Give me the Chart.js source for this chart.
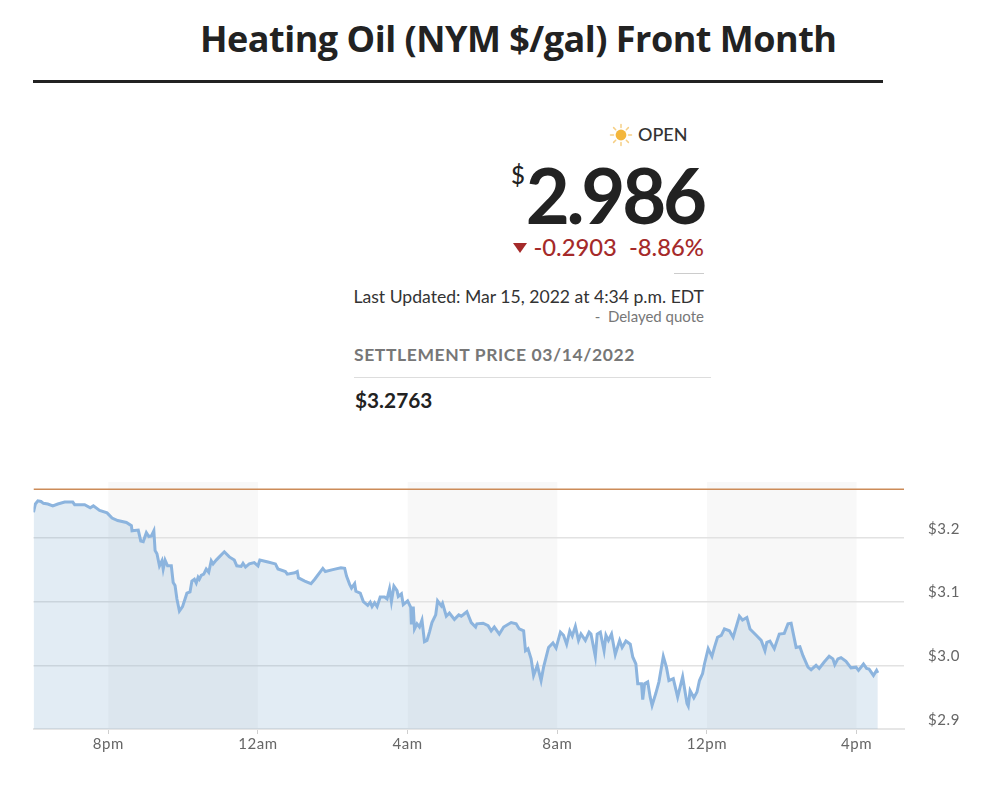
<!DOCTYPE html>
<html>
<head>
<meta charset="utf-8">
<title>Heating Oil</title>
<script src="https://cdn.jsdelivr.net/npm/chart.js@4"></script>
<style>
  html, body { margin: 0; padding: 0; background: #fff; }
  body { width: 1000px; height: 806px; position: relative; overflow: hidden; font-family: Lato, sans-serif; color: #222; }
  .t { position: absolute; white-space: nowrap; }
  .r { text-align: right; }
  .line { position: absolute; }
  #chartBox { position: absolute; left: 0; top: 449px; width: 1000px; height: 357px; }
</style>
</head>
<body>
<div class="t" id="title" style="left:200px;top:14px;font:700 36px/50px 'Open Sans',sans-serif;letter-spacing:-0.5px;color:#222">Heating Oil (NYM $/gal) Front Month</div>
<div class="line" style="left:33px;top:80px;width:850px;height:3px;background:#222"></div>

<svg style="position:absolute;left:609px;top:123px" width="24" height="24" viewBox="0 0 24 24">
  <circle cx="12" cy="12" r="5.4" fill="#f3b63c"/>
  <g stroke="#f6cf85" stroke-width="1.5" stroke-linecap="round">
    <path d="M12 1.5V4.5M12 19.5V22.5M1.5 12H4.5M19.5 12H22.5M4.6 4.6L6.7 6.7M17.3 17.3L19.4 19.4M4.6 19.4L6.7 17.3M17.3 6.7L19.4 4.6"/>
  </g>
</svg>
<div class="t" style="left:638px;top:122px;font-size:18px;line-height:24px;font-weight:500;color:#333">OPEN</div>
<div class="t" style="left:511px;top:161px;font-size:24px;line-height:28px;font-weight:500">$</div>
<div class="r t" style="right:296px;top:150px;font-size:76px;line-height:90px;font-weight:700;letter-spacing:-3.2px">2.986</div>
<svg style="position:absolute;left:513px;top:243px" width="14" height="10" viewBox="0 0 14 10"><path d="M0 0H14L7 10Z" fill="#a52a2a"/></svg>
<div class="r t" style="right:296px;top:233px;font-size:23.8px;line-height:28px;font-weight:500;color:#a52a2a">-0.2903&nbsp; -8.86%</div>
<div class="line" style="left:674px;top:273px;width:30px;height:1px;background:#ccc"></div>
<div class="r t" style="right:296px;top:286px;font-size:17.6px;line-height:22px;color:#333">Last Updated: Mar 15, 2022 at 4:34 p.m. EDT</div>
<div class="r t" style="right:296px;top:307px;font-size:15px;line-height:18px;color:#777">-&nbsp; Delayed quote</div>
<div class="t" style="left:354px;top:344px;font-size:17.5px;line-height:22px;font-weight:700;letter-spacing:0.6px;color:#777">SETTLEMENT PRICE 03/14/2022</div>
<div class="line" style="left:354px;top:377px;width:357px;height:1px;background:#ddd"></div>
<div class="t" style="left:355px;top:387px;font-size:20.8px;line-height:26px;font-weight:700;color:#222">$3.2763</div>

<div id="chartBox"><canvas id="priceChart" width="1000" height="357"></canvas></div>

<script>
// minutes since 6pm on Mar 14
const times = [0,3,7,12,16,23,31,39,50,63,66,82,91,96,106,118,126,135,149,157,158,168,172,176,181,185,189,193,195,198,202,206,208,211,215,221,224,227,230,234,239,243,246,251,254,258,261,264,266,269,273,277,281,285,288,293,298,306,314,322,326,333,336,340,346,354,360,363,376,388,392,404,407,419,423,425,435,445,451,464,468,480,493,
  499,502,507,510,515,517,524,529,536,540,543,547,551,556,563,567,571,574,578,583,585,590,593,600,605,606,609,611,615,619,623,627,631,635,639,645,648,654,656,662,667,675,682,686,690,695,702,709,711,721,729,734,739,747,754,766,774,779,786,789,793,798,802,808,814,818,826,833,838,845,850,855,860,864,869,874,878,885,891,894,901,904,909,915,918,922,927,933,940,944,950,957,961,966,969,975,977,980,985,989,992,998,1003,1007,1010,1015,1019,
  1026,1033,1041,1048,1050,1053,1059,1064,1068,1073,1076,1082,1088,1092,1097,1103,1108,1116,1122,1132,1137,1144,1149,1159,1167,1173,1176,1181,1188,1196,1204,1210,1215,1223,1229,1234,1242,1247,1255,1260,1268,1276,1282,1285,1290,1295,1303,1311,1319,1323,1331,1336,1340,1347,1352,1354];
const prices = [3.240,3.253,3.258,3.257,3.254,3.253,3.250,3.253,3.256,3.256,3.252,3.252,3.247,3.250,3.243,3.239,3.231,3.227,3.224,3.219,3.211,3.212,3.195,3.194,3.208,3.202,3.203,3.211,3.180,3.175,3.156,3.164,3.151,3.165,3.156,3.156,3.130,3.125,3.104,3.085,3.092,3.104,3.113,3.115,3.132,3.135,3.129,3.138,3.135,3.141,3.143,3.151,3.146,3.164,3.159,3.165,3.170,3.178,3.170,3.165,3.156,3.155,3.160,3.154,3.159,3.161,3.156,3.165,3.162,3.159,3.151,3.147,3.143,3.145,3.147,3.137,3.132,3.128,3.135,3.152,3.147,3.150,3.153,
  3.152,3.140,3.127,3.121,3.128,3.116,3.113,3.100,3.094,3.099,3.092,3.098,3.092,3.107,3.107,3.104,3.120,3.100,3.124,3.117,3.108,3.112,3.095,3.101,3.091,3.064,3.092,3.057,3.065,3.060,3.071,3.037,3.039,3.052,3.067,3.079,3.101,3.093,3.097,3.077,3.082,3.072,3.079,3.077,3.080,3.084,3.067,3.060,3.065,3.066,3.062,3.054,3.060,3.049,3.060,3.067,3.065,3.057,3.054,3.023,3.026,3.010,2.984,3.000,2.976,2.997,3.028,3.035,3.027,3.052,3.047,3.033,3.054,3.046,3.061,3.039,3.049,3.039,3.052,3.049,3.014,3.049,3.052,3.023,3.047,3.039,3.049,3.017,3.039,3.028,3.038,3.033,3.013,3.002,2.971,2.971,2.946,2.971,2.974,2.950,2.937,2.956,2.974,2.997,3.014,2.997,2.976,
  2.979,2.950,2.982,2.940,2.936,2.960,2.949,2.958,2.976,2.987,3.002,3.026,3.014,3.028,3.044,3.047,3.057,3.054,3.044,3.077,3.071,3.075,3.057,3.047,3.039,3.023,3.036,3.038,3.026,3.049,3.050,3.065,3.066,3.028,3.029,3.015,2.997,2.993,3.000,2.995,3.005,3.014,3.010,3.001,3.010,3.012,3.006,2.996,2.997,2.992,3.002,2.995,2.994,2.984,2.992,2.988];
const settlement = 3.2763;
const xTicks = [120,360,600,840,1080,1320];
const xLabels = ['8pm','12am','4am','8am','12pm','4pm'];
const yTicks = [2.9,3.0,3.1,3.2];
const bands = [[120,360],[600,840],[1080,1320]];
const xEnd = 1396;

// grey shading behind every other 4 hour block
const bandPlugin = {
  id: 'bands',
  beforeDraw: function (chart) {
    const ctx = chart.ctx, a = chart.chartArea, x = chart.scales.x;
    ctx.save();
    ctx.fillStyle = '#f8f8f8';
    bands.forEach(function (b) {
      const x0 = x.getPixelForValue(b[0]), x1 = x.getPixelForValue(b[1]);
      ctx.fillRect(x0, a.top, x1 - x0, a.bottom - a.top);
    });
    ctx.restore();
    ctx.letterSpacing = '0.6px'; // axis labels are spaced out a little
  }
};

new Chart(document.getElementById('priceChart').getContext('2d'), {
  type: 'line',
  plugins: [bandPlugin],
  data: {
    datasets: [{
      data: times.map(function (t, i) { return { x: t, y: prices[i] }; }),
      borderColor: '#8cb4de',
      borderWidth: 3,
      backgroundColor: 'rgba(110,160,200,0.2)',
      fill: 'start',
      pointRadius: 0,
      tension: 0,
      order: 2
    }, {
      data: [{ x: 0, y: settlement }, { x: xEnd, y: settlement }],
      borderColor: '#cc8b58',
      borderWidth: 1.5,
      pointRadius: 0,
      fill: false,
      order: 1
    }]
  },
  options: {
    responsive: false,
    animation: false,
    layout: { autoPadding: false, padding: { left: 33.5, top: 11, right: 0, bottom: 0 } },
    plugins: { legend: { display: false }, tooltip: { enabled: false } },
    scales: {
      x: {
        type: 'linear',
        min: 0,
        max: xEnd,
        afterBuildTicks: function (s) { s.ticks = xTicks.map(function (v) { return { value: v }; }); },
        afterFit: function (s) { s.height = 77; },
        grid: { drawOnChartArea: false, drawTicks: true, tickLength: 5, color: '#cfcfcf' },
        border: { color: '#e6e6e6', width: 2 },
        ticks: {
          autoSkip: false,
          maxRotation: 0,
          padding: 1,
          color: '#666',
          font: { family: 'Lato', size: 15 },
          callback: function (v) { return xLabels[xTicks.indexOf(v)]; }
        }
      },
      y: {
        position: 'right',
        min: 2.9,
        max: 3.2875,
        afterBuildTicks: function (s) { s.ticks = yTicks.map(function (v) { return { value: v }; }); },
        afterFit: function (s) { s.width = 96; },
        grid: { drawTicks: false, color: '#e2e2e2', lineWidth: 1.5 },
        border: { display: false },
        ticks: {
          padding: 24,
          crossAlign: 'near',
          labelOffset: -9,
          color: '#666',
          font: { family: 'Lato', size: 15 },
          callback: function (v) { return '$' + v.toFixed(1); }
        }
      }
    }
  }
});
</script>
</body>
</html>
